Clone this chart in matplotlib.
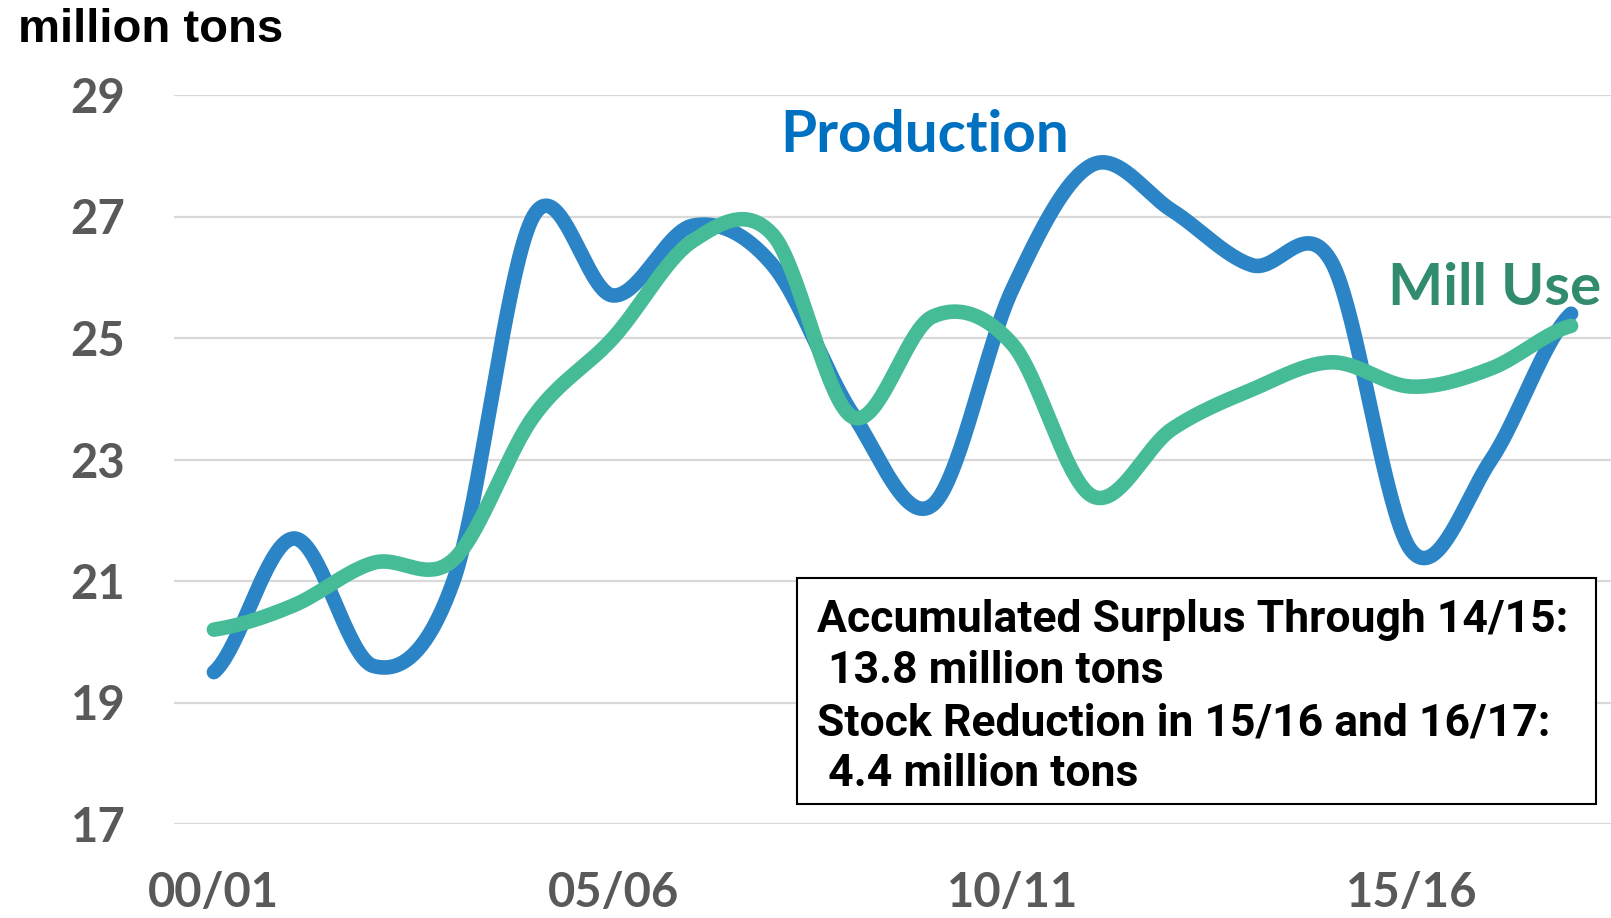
import numpy as np
import matplotlib
matplotlib.use("Agg")
import matplotlib.pyplot as plt
from matplotlib.patches import Rectangle
from matplotlib import font_manager

# ---------------- data ----------------
seasons = ['00/01', '01/02', '02/03', '03/04', '04/05', '05/06', '06/07', '07/08', '08/09',
           '09/10', '10/11', '11/12', '12/13', '13/14', '14/15', '15/16', '16/17', '17/18']
production = [19.5, 21.7, 19.6, 21.0, 27.0, 25.7, 26.85, 26.2, 23.75,
              22.25, 25.8, 27.85, 27.1, 26.2, 26.25, 21.5, 23.0, 25.4]
mill_use = [20.2, 20.6, 21.3, 21.35, 23.7, 25.0, 26.6, 26.7, 23.7,
            25.35, 24.9, 22.4, 23.5, 24.15, 24.6, 24.2, 24.5, 25.2]
y_ticks = [17, 19, 21, 23, 25, 27, 29]
x_label_seasons = ['00/01', '05/06', '10/11', '15/16']
box_lines = ['Accumulated Surplus Through 14/15:',
             ' 13.8 million tons',
             'Stock Reduction in 15/16 and 16/17:',
             ' 4.4 million tons']

# ---------------- fonts ----------------
names = {f.name for f in font_manager.fontManager.ttflist}
label_font = 'Lato' if 'Lato' in names else 'DejaVu Sans'
if 'Liberation Sans Narrow' in names:
    box_font, box_size = 'Liberation Sans Narrow', 33
elif 'Roboto' in names:
    box_font, box_size = 'Roboto', 32
else:
    box_font, box_size = 'Liberation Sans', 30.5

W, H = 1611, 918


def fx(px):
    return px / W


def fy(py):
    return 1 - py / H


def smooth(values, n=40):
    """Excel-like smoothed line (Catmull-Rom / cubic Hermite) through the points."""
    y = np.asarray(values, float)
    x = np.arange(len(y), dtype=float)
    ext = np.concatenate([[y[0]], y, [y[-1]]])
    m = (ext[2:] - ext[:-2]) / 2.0
    xs, ys = [], []
    t = np.linspace(0, 1, n, endpoint=False)
    h00 = 2 * t**3 - 3 * t**2 + 1
    h10 = t**3 - 2 * t**2 + t
    h01 = -2 * t**3 + 3 * t**2
    h11 = t**3 - t**2
    for i in range(len(y) - 1):
        xs.append(x[i] + t)
        ys.append(h00 * y[i] + h10 * m[i] + h01 * y[i + 1] + h11 * m[i + 1])
    xs.append([x[-1]])
    ys.append([y[-1]])
    return np.concatenate(xs), np.concatenate(ys)


fig = plt.figure(figsize=(W / 100, H / 100), dpi=100)
ax = fig.add_axes([fx(174), fy(824), 1 - fx(174), (824 - 95) / H])

blue = '#2A84C6'
green = '#45BB97'

xp, yp = smooth(production)
xm, ym = smooth(mill_use)
ax.plot(xp, yp, color=blue, lw=10.5, solid_capstyle='round', zorder=3)
ax.plot(xm, ym, color=green, lw=10.5, solid_capstyle='round', zorder=4)

ax.set_xlim(-0.5, len(seasons) - 0.5)
ax.set_ylim(17, 29)
ax.set_yticks(y_ticks)
ax.set_yticklabels([str(v) for v in y_ticks], fontfamily=label_font,
                   fontweight='bold', fontsize=34, color='#595959')
ax.set_xticks([seasons.index(s) for s in x_label_seasons])
ax.set_xticklabels(x_label_seasons, fontfamily=label_font, fontweight='bold',
                   fontsize=34, color='#595959')
ax.tick_params(axis='y', length=0, pad=35)
ax.tick_params(axis='x', length=0, pad=34)
ax.grid(axis='y', color='#D9D9D9', lw=1.6, zorder=0)
ax.grid(axis='x', visible=False)
for s in ax.spines.values():
    s.set_visible(False)
ax.set_facecolor('none')

# axis unit title
fig.text(fx(18), fy(42), 'million tons', fontfamily='Liberation Sans',
         fontweight='bold', fontsize=34, color='black', ha='left', va='baseline')

# series labels
fig.text(fx(925), fy(152), 'Production', fontfamily=label_font, fontweight='bold',
         fontsize=42, color='#0070C0', ha='center', va='baseline')
fig.text(fx(1601), fy(305), 'Mill Use', fontfamily=label_font, fontweight='bold',
         fontsize=42, color='#318B6F', ha='right', va='baseline')

# annotation box
box = Rectangle((fx(797), fy(804)), fx(1596) - fx(797), (804 - 578) / H,
                transform=fig.transFigure, facecolor='white', edgecolor='black',
                lw=1.5, zorder=10)
fig.patches.append(box)
baselines = [632, 683, 735, 786]
for line, b in zip(box_lines, baselines):
    fig.text(fx(817), fy(b), line, fontfamily=box_font, fontweight='bold',
             fontsize=box_size, color='black', ha='left', va='baseline', zorder=11)

fig.savefig('out.png', dpi=100)
